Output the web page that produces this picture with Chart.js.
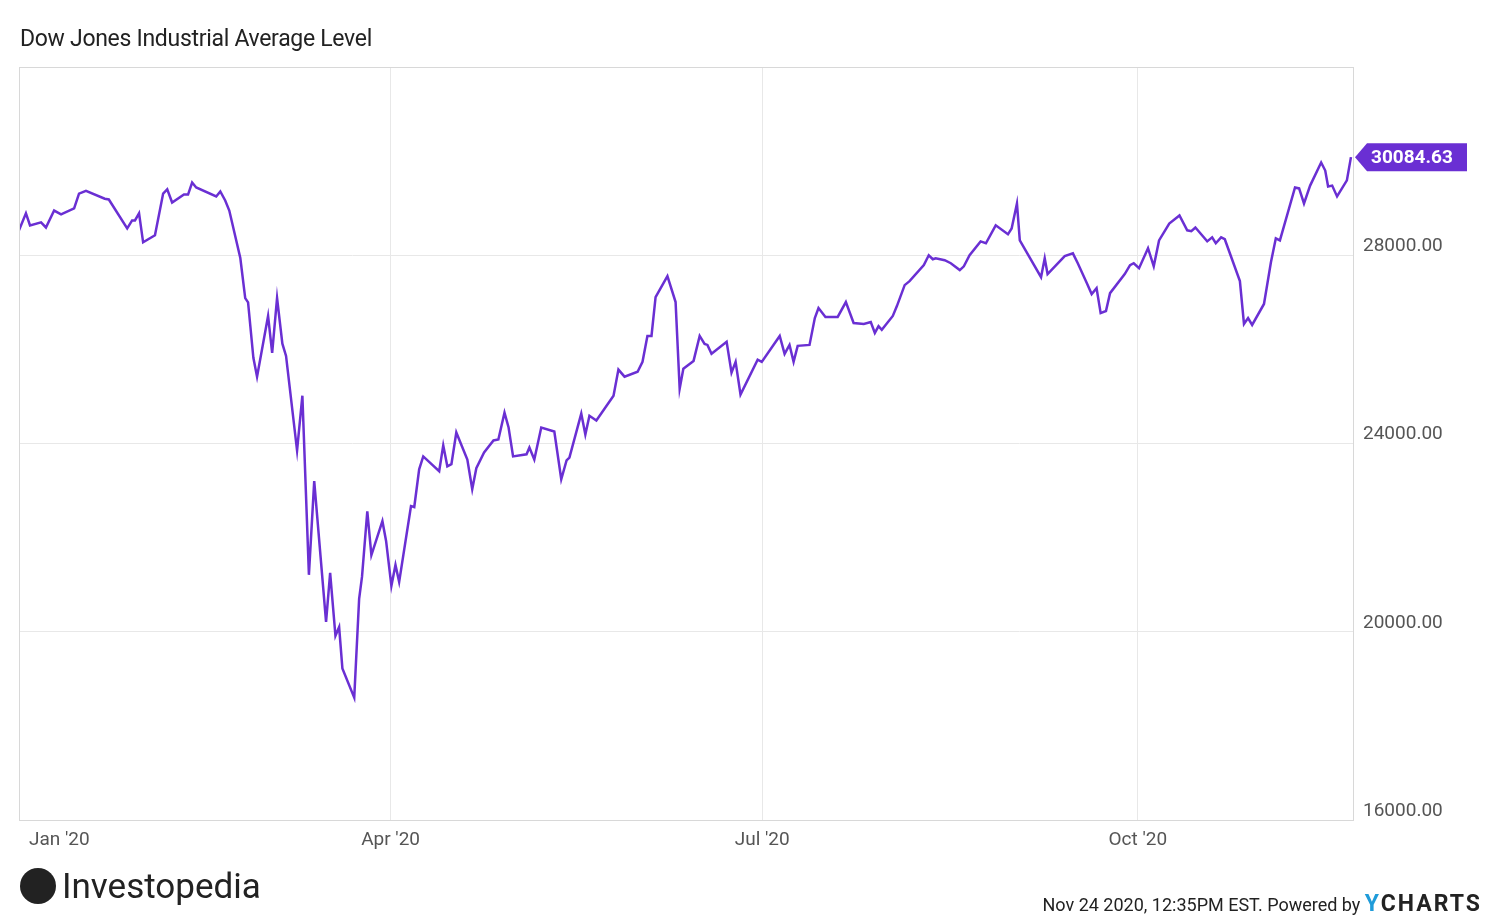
<!DOCTYPE html>
<html>
<head>
<meta charset="utf-8">
<script src="https://cdn.jsdelivr.net/npm/chart.js@4/dist/chart.umd.min.js"></script>
<style>
  body { margin: 0; background: #fff; font-family: Roboto, sans-serif; }
  #wrap { position: relative; width: 1500px; height: 923px; }
  #title { position: absolute; left: 20px; top: 25px; font-size: 23px; color: #222; letter-spacing: -0.3px; }
  #logo { position: absolute; left: 20px; top: 866px; font-size: 35px; color: #222; }
  #logo span { display: inline-block; width: 36px; height: 36px; border-radius: 50%; background: #222; vertical-align: -6px; margin-right: 6px; }
  #foot { position: absolute; right: 18px; top: 890px; font-size: 18px; color: #222; }
  #foot b { color: #222; font-size: 23px; letter-spacing: 2px; }
  #foot b i { color: #1f9bd9; font-style: normal; }
</style>
</head>
<body>
<div id="wrap">
  <canvas id="c" width="1500" height="923"></canvas>
  <div id="title">Dow Jones Industrial Average Level</div>
  <div id="logo"><span></span>Investopedia</div>
  <div id="foot">Nov 24 2020, 12:35PM EST. Powered by <b><i>Y</i>CHARTS</b></div>
</div>
<script>
// days since Jan 1 2020
const days = [0,1.7,2.7,5.4,6.6,8.6,10.3,13.5,14.7,16.4,21,22,26.5,27.7,28.4,29.4,30.4,33.3,35.3,36.3,37.5,40.4,41.4,42.4,43.4,48.3,49.3,50.5,51.5,54.2,55.4,56.1,57.4,58.3,61,62,63.2,64.5,65.4,68.1,69.4,71,72.3,75.2,76.2,77.5,78.4,79.2,82.1,83.3,84,85.3,86.3,89,89.9,91.2,92.2,93.1,96,96.8,98,99,102.9,103.9,104.9,105.9,107.1,109.8,111,112,113.9,116.2,117.4,118.9,119.9,121,124.3,125,126.2,127.9,131.1,132.8,134.1,134.8,137.7,138.7,139.7,141.4,145.6,146.8,148.3,151.5,152.7,153.9,154.9,155.9,158.8,160.8,161.8,162.7,165.2,166.7,167.9,168.6,169.6,173.3,174.5,175.5,176.7,180.9,181.9,186.3,187.5,188.7,189.7,190.7,193.6,194.9,195.8,197.5,200.5,202.5,204.4,206.9,208.6,209.6,210.5,211.3,214,215,216.9,218.1,221.6,222.8,223.8,224.5,226.7,228.2,230.4,231.4,232.8,235.5,236.8,239.2,242.2,243.1,244.4,245.1,250.3,251.2,251.9,256.1,258.1,259.3,261.5,262.7,263.9,264.9,266.2,267.2,270.8,272.1,273,274.3,276.5,277.9,279.2,281.7,284.2,286.1,287.1,288.1,291,292.2,293.1,294.4,295.3,299,300,301,302,304.9,306.6,307.8,308.8,312.5,313.5,314.7,316.2,318.9,319.9,320.6,321.6,322.8,325.2,326.2];
const levels = [28530,28890,28635,28700,28590,28950,28870,28995,29310,29370,29200,29185,28570,28740,28740,28890,28275,28425,29310,29400,29120,29290,29290,29545,29440,29250,29355,29165,28950,27940,27090,27000,25820,25420,26710,25925,27090,26120,25860,23850,25015,21210,23200,20210,21250,19915,20100,19220,18600,20700,21165,22560,21630,22350,21930,20975,21420,21060,22670,22650,23450,23725,23410,23960,23515,23560,24235,23660,23030,23475,23810,24065,24085,24655,24340,23725,23770,23915,23660,24340,24255,23240,23640,23700,24635,24190,24590,24490,25015,25570,25420,25525,25735,26285,26285,27110,27555,27005,25165,25590,25755,26285,26115,26095,25905,26160,25505,25735,25040,25780,25735,26285,25905,26095,25735,26075,26095,26665,26880,26690,26690,27005,26560,26540,26580,26350,26495,26415,26710,26920,27365,27450,27790,28000,27915,27935,27895,27830,27685,27765,28000,28295,28255,28635,28445,28570,29100,28315,27535,27935,27600,27980,28040,27830,27410,27175,27300,26770,26815,27195,27600,27790,27830,27725,28150,27765,28315,28675,28845,28530,28510,28590,28295,28380,28255,28380,28340,27450,26540,26665,26520,26965,27850,28360,28315,29440,29420,29100,29480,29970,29800,29460,29480,29250,29590,30084.63];
const xTickDays = [0, 91, 182, 274];
const xTickLabels = ["Jan '20", "Apr '20", "Jul '20", "Oct '20"];
const yTicks = [16000, 20000, 24000, 28000];

const purple = '#6a2fd3';

const lastTag = {
  id: 'lastTag',
  afterDraw(chart) {
    const ctx = chart.ctx;
    const y = chart.scales.y.getPixelForValue(levels[levels.length - 1]);
    const x = chart.chartArea.right + 2;
    ctx.save();
    ctx.fillStyle = purple;
    ctx.beginPath();
    ctx.moveTo(x, y);
    ctx.lineTo(x + 12, y - 14);
    ctx.lineTo(x + 112, y - 14);
    ctx.lineTo(x + 112, y + 14);
    ctx.lineTo(x + 12, y + 14);
    ctx.closePath();
    ctx.fill();
    ctx.fillStyle = '#fff';
    ctx.font = 'bold 19px Roboto';
    ctx.textBaseline = 'middle';
    ctx.fillText(levels[levels.length - 1].toFixed(2), x + 16, y + 1);
    ctx.restore();
  }
};

// x labels drawn by hand so the first one can sit inside the frame
const xLabels = {
  id: 'xLabels',
  afterDraw(chart) {
    const ctx = chart.ctx, sx = chart.scales.x, a = chart.chartArea;
    ctx.save();
    ctx.fillStyle = '#555';
    ctx.font = '19px Roboto';
    ctx.textBaseline = 'middle';
    xTickDays.forEach((d, i) => {
      let x = sx.getPixelForValue(d);
      const w = ctx.measureText(xTickLabels[i]).width;
      x = Math.max(x, a.left + 10 + w / 2);
      ctx.textAlign = 'center';
      ctx.fillText(xTickLabels[i], x, a.bottom + 20);
    });
    ctx.strokeStyle = '#d8d8d8';
    ctx.lineWidth = 1;
    ctx.strokeRect(a.left + 0.5, a.top + 0.5, a.width, a.height);
    ctx.restore();
  }
};

new Chart(document.getElementById('c'), {
  type: 'line',
  data: {
    datasets: [{
      data: days.map((d, i) => ({ x: d, y: levels[i] })),
      borderColor: purple,
      borderWidth: 2.5,
      pointRadius: 0,
      tension: 0
    }]
  },
  options: {
    responsive: false,
    animation: false,
    layout: { padding: { left: 19, top: 67, right: 0, bottom: 0 } },
    plugins: { legend: { display: false }, tooltip: { enabled: false } },
    scales: {
      x: {
        type: 'linear', min: 0, max: 326.7,
        afterBuildTicks: s => { s.ticks = xTickDays.map(v => ({ value: v })); },
        afterFit: s => { s.height = 103; },
        grid: { color: '#e8e8e8', drawTicks: false },
        border: { color: '#d8d8d8' },
        ticks: { display: false }
      },
      y: {
        position: 'right', min: 16000, max: 32000,
        afterBuildTicks: s => { s.ticks = yTicks.map(v => ({ value: v })); },
        afterFit: s => { s.width = 147; },
        grid: { color: '#e8e8e8', drawTicks: false },
        border: { color: '#d8d8d8' },
        ticks: {
          padding: 10, labelOffset: -9, color: '#555', font: { family: 'Roboto', size: 19 },
          callback: v => v.toFixed(2)
        }
      }
    }
  },
  plugins: [lastTag, xLabels]
});
</script>
</body>
</html>
